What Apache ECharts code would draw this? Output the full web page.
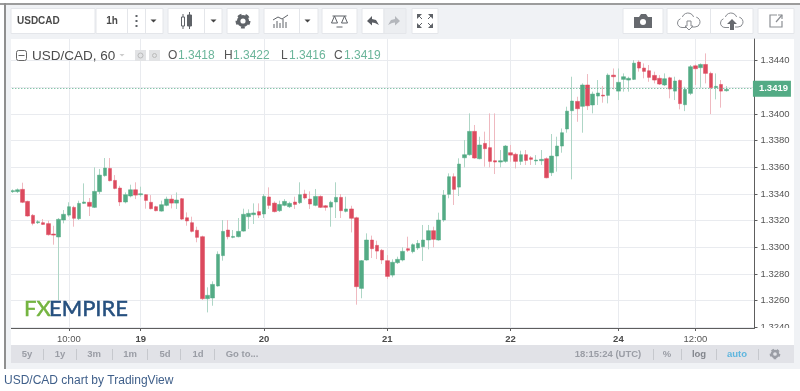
<!DOCTYPE html>
<html>
<head>
<meta charset="utf-8">
<script src="https://cdn.jsdelivr.net/npm/echarts@6/dist/echarts.min.js"></script>
<style>
  html, body { margin: 0; padding: 0; background: #fff; }
  #chart { width: 800px; height: 391px; }
</style>
</head>
<body>
<div id="chart"></div>
<script>
const tickIndex = [11, 25, 49, 73, 97, 118, 133];
const tickLabels = ["10:00", "19", "20", "21", "22", "24", "12:00"];
const priceTicks = [1.324, 1.326, 1.328, 1.33, 1.332, 1.334, 1.336, 1.338, 1.34, 1.342, 1.344];
const lastPrice = 1.3419;

const openPrices = [
  1.33418, 1.33418, 1.33435, 1.33345, 1.3324, 1.33185, 1.33185, 1.33178, 1.331, 1.33078,
  1.33205, 1.33242, 1.333, 1.33215, 1.3333, 1.33338, 1.333, 1.33418, 1.33538, 1.33592,
  1.33502, 1.33445, 1.3334, 1.33385, 1.33432, 1.33395, 1.33395, 1.33338, 1.33305, 1.33272,
  1.33315, 1.33362, 1.33332, 1.33365, 1.33222, 1.33185, 1.33128, 1.3308, 1.32615, 1.3262,
  1.3271, 1.32938, 1.3313, 1.33075, 1.3308, 1.33122, 1.3323, 1.33245, 1.33268, 1.3325,
  1.33378, 1.33332, 1.33275, 1.33315, 1.33305, 1.3334, 1.33335, 1.334, 1.33362, 1.33315,
  1.33382, 1.33312, 1.33302, 1.3334, 1.33375, 1.3327, 1.33288, 1.33222, 1.32692, 1.32905,
  1.33055, 1.33015, 1.32978, 1.329, 1.32792, 1.32885, 1.32905, 1.3299, 1.32968, 1.32995,
  1.33005, 1.33055, 1.33125, 1.33055, 1.33205, 1.33398, 1.3353, 1.33452, 1.33672, 1.33695,
  1.3387, 1.33665, 1.3378, 1.33748, 1.3365, 1.3364, 1.33645, 1.3371, 1.33698, 1.33645,
  1.33695, 1.33672, 1.33648, 1.3365, 1.33665, 1.3356, 1.33685, 1.3376, 1.33888, 1.34025,
  1.34095, 1.34058, 1.34218, 1.34068, 1.34135, 1.34142, 1.3414, 1.34292, 1.34172, 1.3426,
  1.34255, 1.3426, 1.3439, 1.34345, 1.34325, 1.3429, 1.34268, 1.34218, 1.34272, 1.34172,
  1.34252, 1.3407, 1.34155, 1.34362, 1.34348, 1.34372, 1.34305, 1.34198, 1.34222, 1.34175
];
const closePrices = [
  1.33425, 1.33432, 1.33338, 1.33235, 1.3318, 1.33192, 1.33172, 1.33095, 1.33092, 1.3321,
  1.33248, 1.33305, 1.33218, 1.3333, 1.3334, 1.33308, 1.3342, 1.33542, 1.33595, 1.335,
  1.33442, 1.3334, 1.33395, 1.33432, 1.33392, 1.33402, 1.33352, 1.3329, 1.33275, 1.3332,
  1.33362, 1.33332, 1.33355, 1.33212, 1.33198, 1.3312, 1.33075, 1.32615, 1.3264, 1.32722,
  1.32948, 1.3312, 1.3308, 1.33082, 1.3312, 1.33248, 1.33255, 1.33258, 1.33242, 1.33382,
  1.33315, 1.33268, 1.33322, 1.33345, 1.3333, 1.33322, 1.33395, 1.3337, 1.33325, 1.33382,
  1.333, 1.333, 1.33338, 1.33375, 1.33275, 1.33288, 1.33218, 1.32705, 1.329, 1.33055,
  1.3299, 1.32972, 1.32905, 1.32782, 1.32888, 1.3291, 1.3297, 1.32978, 1.3302, 1.3303,
  1.33055, 1.33125, 1.3306, 1.33205, 1.33392, 1.3353, 1.33435, 1.33625, 1.33695, 1.3387,
  1.3367, 1.33768, 1.3374, 1.33645, 1.3364, 1.3365, 1.3376, 1.33692, 1.33645, 1.33695,
  1.33652, 1.3366, 1.33655, 1.3366, 1.33522, 1.33685, 1.3376, 1.3386, 1.34022, 1.34098,
  1.3404, 1.34218, 1.34062, 1.3415, 1.34158, 1.34135, 1.34292, 1.3428, 1.34238, 1.3428,
  1.34268, 1.34382, 1.34345, 1.3432, 1.34275, 1.34255, 1.34225, 1.34265, 1.34188, 1.34248,
  1.34078, 1.34185, 1.34355, 1.3434, 1.34372, 1.34305, 1.34198, 1.34208, 1.34172, 1.34185
];
const lowPrices = [
  1.33408, 1.33408, 1.33332, 1.3323, 1.33165, 1.33175, 1.33168, 1.33088, 1.3302, 1.32605,
  1.3318, 1.3323, 1.33155, 1.33205, 1.33325, 1.33235, 1.33295, 1.334, 1.3353, 1.33495,
  1.33435, 1.3331, 1.3333, 1.33375, 1.33362, 1.3338, 1.3329, 1.33285, 1.3327, 1.33268,
  1.33308, 1.33292, 1.33288, 1.33205, 1.33162, 1.33112, 1.33038, 1.32605, 1.32512, 1.32562,
  1.32705, 1.329, 1.3306, 1.33068, 1.33075, 1.33118, 1.33138, 1.33175, 1.3322, 1.3322,
  1.33288, 1.33262, 1.33265, 1.33308, 1.33295, 1.33288, 1.33325, 1.33358, 1.33288, 1.33308,
  1.33295, 1.33275, 1.33155, 1.3322, 1.3322, 1.33262, 1.33112, 1.3257, 1.32618, 1.329,
  1.3292, 1.32912, 1.32875, 1.32762, 1.32775, 1.32875, 1.32895, 1.32965, 1.32955, 1.3298,
  1.32898, 1.32985, 1.33, 1.3305, 1.33192, 1.33368, 1.33318, 1.33385, 1.336, 1.33688,
  1.33665, 1.3366, 1.33605, 1.336, 1.3355, 1.336, 1.33635, 1.33642, 1.33592, 1.33618,
  1.33618, 1.33618, 1.33618, 1.33618, 1.33518, 1.33535, 1.33568, 1.3371, 1.3386, 1.3351,
  1.33942, 1.3386, 1.3403, 1.34005, 1.34068, 1.34085, 1.3408, 1.34185, 1.34105, 1.34168,
  1.34168, 1.34255, 1.34318, 1.34268, 1.34242, 1.3423, 1.34218, 1.3421, 1.34118, 1.34105,
  1.34035, 1.34022, 1.34142, 1.34218, 1.34198, 1.3423, 1.34, 1.3411, 1.34048, 1.34168
];
const highPrices = [
  1.33435, 1.33442, 1.33485, 1.3335, 1.3325, 1.33205, 1.33212, 1.332, 1.33162, 1.3322,
  1.3328, 1.33338, 1.33312, 1.3335, 1.3348, 1.3337, 1.336, 1.33588, 1.3367, 1.3367,
  1.33542, 1.33462, 1.33412, 1.3347, 1.33488, 1.33455, 1.334, 1.33392, 1.33312, 1.3335,
  1.3338, 1.33392, 1.33412, 1.3337, 1.33262, 1.3323, 1.33155, 1.33088, 1.327, 1.32745,
  1.3297, 1.33205, 1.33205, 1.3313, 1.3322, 1.3329, 1.33285, 1.3333, 1.3333, 1.334,
  1.3345, 1.33345, 1.3335, 1.33362, 1.33342, 1.3338, 1.33488, 1.33432, 1.3342, 1.33438,
  1.3339, 1.33318, 1.3335, 1.33488, 1.334, 1.3338, 1.33312, 1.3323, 1.32905, 1.33105,
  1.33088, 1.3305, 1.32988, 1.32942, 1.3291, 1.3293, 1.33, 1.3308, 1.3303, 1.33055,
  1.33168, 1.33168, 1.33155, 1.3326, 1.3343, 1.33555, 1.33555, 1.33668, 1.33805, 1.34005,
  1.33918, 1.3383, 1.33868, 1.34005, 1.34005, 1.3373, 1.33768, 1.33768, 1.3371, 1.33725,
  1.3373, 1.33685, 1.33692, 1.3373, 1.33675, 1.3385, 1.3383, 1.33892, 1.34055, 1.3428,
  1.3413, 1.3423, 1.343, 1.34168, 1.34255, 1.3421, 1.34305, 1.34342, 1.34342, 1.34305,
  1.3428, 1.34405, 1.34405, 1.3438, 1.34368, 1.34318, 1.34292, 1.34305, 1.3428, 1.3428,
  1.3426, 1.34205, 1.34368, 1.34372, 1.3438, 1.34455, 1.34318, 1.34305, 1.34255, 1.3421
];

const SANS = '"Liberation Sans", Arial, sans-serif';
const UP = "#53ab85";
const DOWN = "#dc4a5e";
const UP_WICK = "#aed6c6";
const DOWN_WICK = "#efb9c0";
const AXIS = "#5e5e5e";
const GRID = "#e9ebef";

// 140 candles plus the empty space left of the price scale
const categories = [];
for (let i = 0; i < 145; i++) {
  const t = tickIndex.indexOf(i);
  categories.push(t >= 0 ? tickLabels[t] : "c" + i);
}
const isTick = (i) => tickIndex.includes(i);

const candles = openPrices.map((o, i) => [o, closePrices[i], lowPrices[i], highPrices[i]]);
const bodies = openPrices.map((o, i) => [o, closePrices[i], Math.min(o, closePrices[i]), Math.max(o, closePrices[i])]);

function box(x, y, w, h, fill, stroke, z) {
  return { type: "rect", z: z || 1, shape: { x, y, width: w, height: h }, style: { fill, stroke: stroke || null, lineWidth: 1 }, silent: true };
}
function label(x, y, text, fill, font, align, z) {
  return { type: "text", z: z || 5, style: { x, y, text, fill, font: font || "10px " + SANS, align: align || "center", verticalAlign: "middle" }, silent: true };
}
function line(x1, y1, x2, y2, stroke, width) {
  return { type: "line", z: 3, shape: { x1, y1, x2, y2 }, style: { stroke, lineWidth: width || 1 }, silent: true };
}
function poly(x, y, points, fill) {
  return { type: "polygon", z: 4, x, y, shape: { points }, style: { fill }, silent: true };
}
function stroke(x, y, points, color, width) {
  return { type: "polyline", z: 4, x, y, shape: { points }, style: { fill: "none", stroke: color, lineWidth: width || 1 }, silent: true };
}
function caret(x, y) {
  return poly(x, y, [[-3, -1.5], [3, -1.5], [0, 1.5]], "#444");
}
function gear(cx, cy, r, color) {
  return [
    { type: "circle", z: 4, shape: { cx, cy, r: r * 0.62 }, style: { fill: "none", stroke: color, lineWidth: r * 0.5 }, silent: true },
    { type: "circle", z: 4, shape: { cx, cy, r: r * 0.92 }, style: { fill: "none", stroke: color, lineWidth: r * 0.3, lineDash: [r * 0.55, r * 0.6] }, silent: true }
  ];
}
function cloud(cx, cy, color) {
  const arc = (dx, dy, r, a, b) => ({
    type: "arc", z: 4, shape: { cx: cx + dx, cy: cy + dy, r, startAngle: a * Math.PI / 180, endAngle: b * Math.PI / 180 },
    style: { fill: "none", stroke: color, lineWidth: 1 }, silent: true
  });
  return [
    arc(-7, 2, 4.5, 90, 250),
    arc(-1, -2, 6, 200, 340),
    arc(6, 1, 5, 285, 90),
    line(cx - 7, cy + 6.5, cx - 3, cy + 6.5, color),
    line(cx + 3, cy + 6, cx + 6, cy + 6, color)
  ];
}
function logoText(x, text, fill) {
  const el = label(x, 309, text, fill, "22px Lato, " + SANS, "left", 100);
  el.style.stroke = fill;
  el.style.lineWidth = 0.5;
  return el;
}

const BTN = "#ffffff";
const BTN_LINE = "#e4e6ea";
const ICON = "#5f6368";
const BAR_TEXT = "#9a9da5";
const BAR_FONT = "bold 9.5px " + SANS;

const chrome = [
  // panel and white chart area
  box(5, 4, 795, 365, "#f0f2f5", null, -10),
  box(11, 39, 783, 306, "#ffffff", null, -9),
  box(0, 3, 800, 2, "#9c9c9c", null, 1),
  box(4, 3, 2, 366, "#8f8f8f", null, 1),
  box(6, 39, 5, 306, "#f0f2f5", null, 100),
  box(755, 328, 39, 8, "#ffffff", null, 100),

  // toolbar
  box(11, 8.5, 84, 25, BTN, BTN_LINE),
  label(17, 21, "USDCAD", "#4a4a4a", "bold 10px " + SANS, "left"),
  box(96, 8.5, 67, 25, BTN, BTN_LINE),
  line(127.5, 9, 127.5, 33, BTN_LINE),
  line(145.5, 9, 145.5, 33, BTN_LINE),
  label(112, 21, "1h", "#4a4a4a", "bold 10px " + SANS),
  box(135.5, 15, 2, 2, ICON), box(135.5, 20, 2, 2, ICON), box(135.5, 25, 2, 2, ICON),
  caret(153.5, 21),
  box(168, 8.5, 54, 25, BTN, BTN_LINE),
  line(204.5, 9, 204.5, 33, BTN_LINE),
  line(183, 14, 183, 29, ICON),
  box(181.5, 17, 3, 9, "#fff", ICON, 3),
  line(189.5, 12, 189.5, 29, ICON),
  box(187.5, 15, 4, 11, ICON, ICON, 3),
  caret(213.5, 21),
  box(227, 8.5, 32, 25, BTN, BTN_LINE),
  ...gear(243, 21, 7, ICON),
  box(264, 8.5, 54, 25, BTN, BTN_LINE),
  line(299.5, 9, 299.5, 33, BTN_LINE),
  line(274, 28, 274, 24, ICON), line(277, 28, 277, 21, ICON), line(280, 28, 280, 23, ICON),
  line(283, 28, 283, 19, ICON), line(286, 28, 286, 22, ICON),
  stroke(281, 21, [[-8, -1], [-3, -4], [1, -2], [7, -6]], ICON),
  caret(307.5, 21),
  box(322, 8.5, 35, 25, BTN, BTN_LINE),
  stroke(339.5, 21, [[-7, -5], [7, -5]], ICON),
  stroke(339.5, 21, [[-5, -5], [-8, 2], [-2, 2], [-5, -5]], ICON),
  stroke(339.5, 21, [[5, -5], [2, 2], [8, 2], [5, -5]], ICON),
  stroke(339.5, 21, [[-3, 6], [3, 6]], ICON),
  box(362, 8.5, 22, 25, BTN, BTN_LINE),
  box(384, 8.5, 22, 25, "#eceef1", BTN_LINE),
  poly(373, 21, [[-6, 0], [-1, -5], [-1, -2], [3, -1], [6, 4], [2, 2], [-1, 1.5], [-1, 4.5]], "#5a5d63"),
  poly(394, 21, [[6, 0], [1, -5], [1, -2], [-3, -1], [-6, 4], [-2, 2], [1, 1.5], [1, 4.5]], "#b4b7bc"),
  box(412, 8.5, 26, 25, BTN, BTN_LINE),
  poly(425, 21, [[-8, -7], [-3, -7], [-8, -2]], ICON), poly(425, 21, [[8, -7], [3, -7], [8, -2]], ICON),
  poly(425, 21, [[-8, 7], [-3, 7], [-8, 2]], ICON), poly(425, 21, [[8, 7], [3, 7], [8, 2]], ICON),
  stroke(425, 21, [[-6, -5], [-3, -2]], ICON), stroke(425, 21, [[6, -5], [3, -2]], ICON),
  stroke(425, 21, [[-6, 5], [-3, 2]], ICON), stroke(425, 21, [[6, 5], [3, 2]], ICON),
  box(623, 8.5, 40, 25, BTN, BTN_LINE),
  poly(643, 21, [[-9, -4], [-4, -4], [-2, -7], [3, -7], [5, -4], [9, -4], [9, 7], [-9, 7]], "#66696e"),
  { type: "circle", z: 5, shape: { cx: 643, cy: 22, r: 3 }, style: { fill: "#fff" }, silent: true },
  box(667, 8.5, 86, 25, BTN, BTN_LINE),
  line(710.5, 9, 710.5, 33, BTN_LINE),
  ...cloud(689, 21, "#888b90"),
  stroke(689, 21, [[-2, 0], [2, 0], [2, 5], [4, 5], [0, 9], [-4, 5], [-2, 5], [-2, 0]], "#888b90"),
  ...cloud(732, 21, "#888b90"),
  poly(732, 21, [[-2, 9], [-2, 3], [-5, 3], [0, -2], [5, 3], [2, 3], [2, 9]], "#66696e"),
  box(758, 8.5, 36, 25, BTN, BTN_LINE),
  stroke(776, 21, [[1, -6], [-6, -6], [-6, 6], [6, 6], [6, 0]], "#8c8f94", 1.2),
  stroke(776, 21, [[0, 1], [6, -6]], "#8c8f94", 1.2),
  stroke(776, 21, [[2, -6], [6, -6], [6, -2]], "#8c8f94", 1.2),

  // legend
  { type: "rect", z: 4, shape: { x: 16.5, y: 50.5, width: 10, height: 10, r: 2 }, style: { fill: "#fff", stroke: "#666", lineWidth: 1 }, silent: true },
  stroke(0, 0, [[18.5, 55.5], [24.5, 55.5]], "#666"),
  label(32, 56, "USD/CAD, 60", "#4c4c4c", "13.5px " + SANS, "left"),
  poly(122, 55, [[-2.5, -1], [2.5, -1], [0, 1.5]], "#ccc"),
  box(135, 50, 11, 11, "#e2e3e5"), box(149, 50, 11, 11, "#e2e3e5"),
  { type: "circle", z: 4, shape: { cx: 140.5, cy: 55.5, r: 2.5 }, style: { fill: "none", stroke: "#bbb" }, silent: true },
  { type: "circle", z: 4, shape: { cx: 154.5, cy: 55.5, r: 2 }, style: { fill: "none", stroke: "#bbb" }, silent: true },
  label(168, 56, "O", "#555", "12px " + SANS, "left"),
  label(178, 56, "1.3418", "#6bb59a", "12px " + SANS, "left"),
  label(224, 56, "H", "#555", "12px " + SANS, "left"),
  label(233, 56, "1.3422", "#6bb59a", "12px " + SANS, "left"),
  label(281, 56, "L", "#555", "12px " + SANS, "left"),
  label(289, 56, "1.3416", "#6bb59a", "12px " + SANS, "left"),
  label(334, 56, "C", "#555", "12px " + SANS, "left"),
  label(344, 56, "1.3419", "#6bb59a", "12px " + SANS, "left"),

  // watermark
  logoText(24, "FX", "#74b440"),
  logoText(49, "EMPIRE", "#26507f"),

  // bottom bar
  box(11, 345, 783, 18, "#e1e2e7", null, 1),
  label(27, 354, "5y", BAR_TEXT, BAR_FONT), line(43.5, 349, 43.5, 360, "#c6c8cd"),
  label(60, 354, "1y", BAR_TEXT, BAR_FONT), line(76.5, 349, 76.5, 360, "#c6c8cd"),
  label(94, 354, "3m", BAR_TEXT, BAR_FONT), line(112.5, 349, 112.5, 360, "#c6c8cd"),
  label(130, 354, "1m", BAR_TEXT, BAR_FONT), line(147.5, 349, 147.5, 360, "#c6c8cd"),
  label(165, 354, "5d", BAR_TEXT, BAR_FONT), line(180.5, 349, 180.5, 360, "#c6c8cd"),
  label(198, 354, "1d", BAR_TEXT, BAR_FONT), line(214.5, 349, 214.5, 360, "#c6c8cd"),
  label(242, 354, "Go to...", BAR_TEXT, BAR_FONT),
  label(608, 354, "18:15:24 (UTC)", BAR_TEXT, BAR_FONT), line(653.5, 349, 653.5, 360, "#c6c8cd"),
  label(667, 354, "%", BAR_TEXT, BAR_FONT), line(681.5, 349, 681.5, 360, "#c6c8cd"),
  label(699, 354, "log", "#83868d", BAR_FONT), line(716.5, 349, 716.5, 360, "#c6c8cd"),
  label(737, 354, "auto", "#5fb6de", BAR_FONT), line(758.5, 349, 758.5, 360, "#c6c8cd"),
  ...gear(775, 354, 5, "#9a9da5"),

  // caption
  label(4, 381, "USD/CAD chart by TradingView", "#3f5f8a", "12px " + SANS, "left")
];

const chart = echarts.init(document.getElementById("chart"), null, { renderer: "canvas" });
chart.setOption({
  animation: false,
  backgroundColor: "#ffffff",
  grid: { left: 9.74, top: 39, width: 744.76, height: 289 },
  xAxis: {
    type: "category",
    data: categories,
    axisLine: { lineStyle: { color: AXIS, width: 1 } },
    axisTick: { show: true, alignWithLabel: true, interval: isTick, length: 3, lineStyle: { color: AXIS } },
    axisLabel: {
      interval: isTick,
      margin: 6,
      color: "#555",
      fontFamily: SANS,
      fontSize: 9.5,
      formatter: (v) => (v.includes(":") ? v : "{day|" + v + "}"),
      rich: { day: { fontFamily: SANS, fontSize: 9.5, fontWeight: "bold", color: "#4a4a4a" } }
    },
    splitLine: { show: true, alignWithLabel: true, interval: isTick, lineStyle: { color: GRID, width: 1 } }
  },
  yAxis: {
    type: "value",
    position: "right",
    scale: true,
    min: 1.32395,
    max: 1.34563,
    axisLine: { show: true, lineStyle: { color: AXIS, width: 1 } },
    axisTick: { show: true, length: 3, customValues: priceTicks, lineStyle: { color: AXIS } },
    axisLabel: {
      margin: 6,
      color: "#555",
      fontFamily: SANS,
      fontSize: 9.5,
      customValues: priceTicks,
      formatter: (v) => v.toFixed(4)
    },
    splitLine: { show: true, lineStyle: { color: GRID, width: 1 } }
  },
  series: [
    {
      type: "candlestick",
      name: "wick",
      data: candles,
      barWidth: 1,
      silent: true,
      itemStyle: { color: UP_WICK, color0: DOWN_WICK, borderColor: UP_WICK, borderColor0: DOWN_WICK, borderWidth: 1 }
    },
    {
      type: "candlestick",
      name: "USD/CAD",
      data: bodies,
      barWidth: 4,
      silent: true,
      itemStyle: { color: UP, color0: DOWN, borderColor: UP, borderColor0: DOWN, borderWidth: 0.5 },
      markLine: {
        silent: true,
        symbol: "none",
        animation: false,
        lineStyle: { color: UP, type: [1, 2], width: 1 },
        label: {
          position: "end",
          distance: 1,
          formatter: () => lastPrice.toFixed(4),
          backgroundColor: UP,
          color: "#fff",
          fontFamily: SANS,
          fontSize: 9.5,
          fontWeight: "bold",
          padding: [3, 4, 3, 6],
          width: 28
        },
        data: [[{ coord: [0, lastPrice] }, { coord: [144, lastPrice] }]]
      }
    }
  ],
  graphic: { elements: chrome }
});
</script>
</body>
</html>
